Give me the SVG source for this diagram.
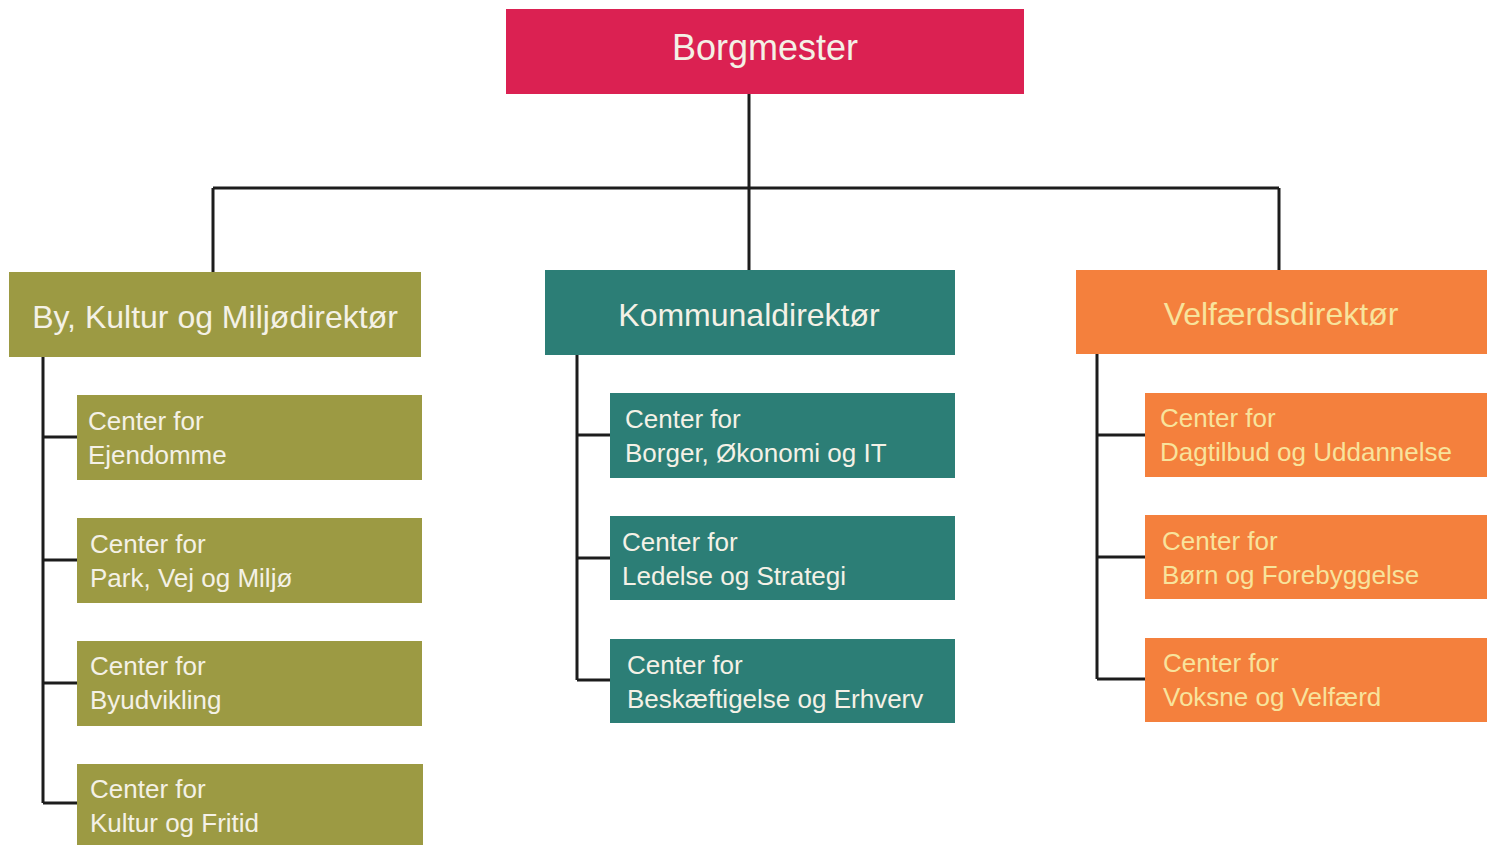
<svg xmlns="http://www.w3.org/2000/svg" width="1497" height="845" viewBox="0 0 1497 845">
<style>
.t{font-family:"Liberation Sans",Arial,sans-serif;fill:#f4f1e6}
.big{font-size:36px}
.dir{font-size:32px}
.sub{font-size:26px}
.olive{fill:#9c9a43}
.teal{fill:#2c7e76}
.orange{fill:#f4803d}
.red{fill:#db2152}
.ot{fill:#f8e39c}
.c{fill:none;stroke:#1c1c1c;stroke-width:3}
</style>
<rect width="1497" height="845" fill="#ffffff"/>
<g id="connectors">
<path class="c" d="M749 94V270M213 188H1279M213 188V272M1279 188V270"/>
<path class="c" d="M43 356V803M43 437H77M43 560H77M43 683H77M43 803H77"/>
<path class="c" d="M577 354V680M577 435H610M577 558H610M577 680H610"/>
<path class="c" d="M1097 353V679M1097 435H1145M1097 557H1145M1097 679H1145"/>
</g>
<g id="borgmester">
<rect class="red" x="506" y="9" width="518" height="85"/>
<text class="t big" x="765" y="60" text-anchor="middle">Borgmester</text>
</g>
<g id="by-kultur-miljo">
<rect class="olive" x="9" y="272" width="412" height="85"/>
<text class="t dir" x="215" y="328" text-anchor="middle">By, Kultur og Miljødirektør</text>
</g>
<g id="kommunaldirektor">
<rect class="teal" x="545" y="270" width="410" height="85"/>
<text class="t dir" x="749" y="326" text-anchor="middle">Kommunaldirektør</text>
</g>
<g id="velfaerdsdirektor">
<rect class="orange" x="1076" y="270" width="411" height="84"/>
<text class="t ot dir" x="1281" y="325" text-anchor="middle">Velfærdsdirektør</text>
</g>
<g id="ejendomme">
<rect class="olive" x="77" y="395" width="345" height="85"/>
<text class="t sub" x="88" y="430">Center for</text>
<text class="t sub" x="88" y="464">Ejendomme</text>
</g>
<g id="park-vej-miljo">
<rect class="olive" x="77" y="518" width="345" height="85"/>
<text class="t sub" x="90" y="553">Center for</text>
<text class="t sub" x="90" y="587">Park, Vej og Miljø</text>
</g>
<g id="byudvikling">
<rect class="olive" x="77" y="641" width="345" height="85"/>
<text class="t sub" x="90" y="675">Center for</text>
<text class="t sub" x="90" y="709">Byudvikling</text>
</g>
<g id="kultur-fritid">
<rect class="olive" x="77" y="764" width="346" height="90"/>
<text class="t sub" x="90" y="798">Center for</text>
<text class="t sub" x="90" y="832">Kultur og Fritid</text>
</g>
<g id="borger-okonomi-it">
<rect class="teal" x="610" y="393" width="345" height="85"/>
<text class="t sub" x="625" y="428">Center for</text>
<text class="t sub" x="625" y="462">Borger, Økonomi og IT</text>
</g>
<g id="ledelse-strategi">
<rect class="teal" x="610" y="516" width="345" height="84"/>
<text class="t sub" x="622" y="551">Center for</text>
<text class="t sub" x="622" y="585">Ledelse og Strategi</text>
</g>
<g id="beskaeftigelse-erhverv">
<rect class="teal" x="610" y="639" width="345" height="84"/>
<text class="t sub" x="627" y="674">Center for</text>
<text class="t sub" x="627" y="708">Beskæftigelse og Erhverv</text>
</g>
<g id="dagtilbud-uddannelse">
<rect class="orange" x="1145" y="393" width="342" height="84"/>
<text class="t ot sub" x="1160" y="427">Center for</text>
<text class="t ot sub" x="1160" y="461">Dagtilbud og Uddannelse</text>
</g>
<g id="born-forebyggelse">
<rect class="orange" x="1145" y="515" width="342" height="84"/>
<text class="t ot sub" x="1162" y="550">Center for</text>
<text class="t ot sub" x="1162" y="584">Børn og Forebyggelse</text>
</g>
<g id="voksne-velfaerd">
<rect class="orange" x="1145" y="638" width="342" height="84"/>
<text class="t ot sub" x="1163" y="672">Center for</text>
<text class="t ot sub" x="1163" y="706">Voksne og Velfærd</text>
</g>
</svg>
